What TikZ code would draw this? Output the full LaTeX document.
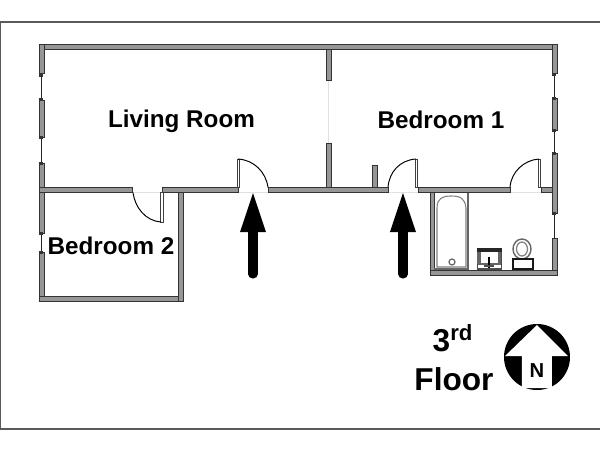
\documentclass[tikz,border=0pt]{standalone}
\usepackage{fontspec}
\setmainfont{Liberation Sans}
\definecolor{WallGrey}{RGB}{150,150,150}
\definecolor{FrameGrey}{RGB}{90,90,90}
\definecolor{SillGrey}{RGB}{225,225,225}
\tikzset{
  wall/.style={fill=WallGrey, draw=black!80, line width=0.45pt},
  leaf/.style={fill=white, draw=black!75, line width=0.5pt},
  pane/.style={draw=black!85, line width=0.55pt},
  sill/.style={draw=SillGrey, line width=0.5pt},
  swing/.style={draw=black, line width=0.55pt},
  fixture/.style={draw=black!60, line width=0.8pt},
  walkin/.style={line width=5.2pt, line cap=round},
  room/.style={font=\bfseries\fontsize{13.8}{16}\selectfont, inner sep=0pt},
  floorlabel/.style={font=\bfseries\fontsize{18}{21}\selectfont, inner sep=0pt},
}
\begin{document}
\begin{tikzpicture}[x=0.02cm, y=-0.02cm]

  \useasboundingbox (0,0) rectangle (600,450);
  \fill[white] (0,0) rectangle (600,450);

  % page frame
  \draw[FrameGrey, line width=0.7pt] (600,22) -- (0.7,22) -- (0.7,429) -- (600,429);

  % windows, thin parts
  \draw[pane] (41.5,72) -- (41.5,255);
  \draw[pane] (554.5,72) -- (554.5,240);

  % thresholds
  \draw[sill] (328.5,80) -- (328.5,143);
  \draw[sill] (132,192) -- (162,192);
  \draw[sill] (238,192) -- (268,192);
  \draw[sill] (388,192) -- (418,192);
  \draw[sill] (510,192) -- (541,192);

  % outer walls
  \filldraw[wall] (39,44) rectangle (557,49);
  \filldraw[wall] (39,44) rectangle (44,73);
  \filldraw[wall] (39,100) rectangle (44,137);
  \filldraw[wall] (39,163) rectangle (44,233);
  \filldraw[wall] (39,252) rectangle (44,301);
  \filldraw[wall] (552,44) rectangle (557,73);
  \filldraw[wall] (552,98) rectangle (557,130);
  \filldraw[wall] (552,153) rectangle (557,213);
  \filldraw[wall] (552,238) rectangle (557,275);

  % window catches
  \foreach \py in {75,99,137,163,233,252} \fill[black!80] (39.5,\py-1.5) rectangle (43.5,\py+1.5);
  \foreach \py in {74,98,130,153,213} \fill[black!80] (552.5,\py-1.5) rectangle (556.5,\py+1.5);

  % inner walls
  \filldraw[wall] (39,187.5) rectangle (132,192.5);
  \filldraw[wall] (162,187.5) rectangle (238,192.5);
  \filldraw[wall] (268,187.5) rectangle (388,192.5);
  \filldraw[wall] (418,187.5) rectangle (510,192.5);
  \filldraw[wall] (541,187.5) rectangle (552,192.5);
  \filldraw[wall] (326,49) rectangle (331,80);
  \filldraw[wall] (326,143) rectangle (331,187.5);
  \filldraw[wall] (372,165) rectangle (377,187.5);

  % bedroom 2 and bath
  \filldraw[wall] (39,296.5) rectangle (183,301);
  \filldraw[wall] (178,192.5) rectangle (183,301);
  \filldraw[wall] (430,192.5) rectangle (434,275);
  \filldraw[wall] (430,270) rectangle (557,275);

  % doors
  \filldraw[leaf] (160.5,192.5) rectangle (163,222);
  \draw[swing] (133,192.5) .. controls (135,208) and (146,221) .. (161,222);
  \filldraw[leaf] (237,159) rectangle (239.5,187.5);
  \draw[swing] (238,159) .. controls (254,160) and (266,172) .. (268,187.5);
  \filldraw[leaf] (415,159) rectangle (417.5,187.5);
  \draw[swing] (416,159) .. controls (400,160) and (389,172) .. (388,187.5);
  \filldraw[leaf] (538,159) rectangle (540.5,187.5);
  \draw[swing] (539,159) .. controls (524,160) and (511,172) .. (510,187.5);

  % bath fixtures
  \draw[fixture] (434,269) -- (468,269) -- (468,192.5);
  \draw[black!50, line width=0.6pt] (437,267) -- (437,208) .. controls (437,198) and (443,196) .. (451,196)
    .. controls (460,196) and (465,198) .. (466,208) -- (466,267) -- cycle;
  \draw[black!60, line width=0.7pt] (452,262) circle[radius=3];
  \draw[black!70, line width=1pt] (477.5,248.5) rectangle (501.5,269);
  \fill[black!85] (477,248) rectangle (502,252);
  \fill[black!60] (477.5,252) rectangle (481,264);
  \fill[black!60] (498,252) rectangle (501.5,264);
  \draw[black!60, line width=0.6pt] (478,264) -- (501,264);
  \fill[black] (488,257) rectangle (490,268);
  \fill[black!70] (484,264.5) rectangle (494,266.5);
  \draw[fixture, fill=white] (522,249) ellipse[x radius=9, y radius=10];
  \draw[black!50, line width=0.7pt] (522,249) ellipse[x radius=5.5, y radius=7];
  \draw[black!90, line width=0.8pt, fill=white] (513,259) rectangle (533,269);

  % entrance arrows
  \coordinate (doorA) at (253,193);
  \coordinate (tailA) at (253,274);
  \coordinate (doorB) at (403,193);
  \coordinate (tailB) at (403,274);
  \draw[walkin] (tailA) -- (253,225);
  \fill[black] (doorA) -- (266,232) -- (240,232) -- cycle;
  \draw[walkin] (tailB) -- (403,225);
  \fill[black] (doorB) -- (416,232) -- (390,232) -- cycle;

  % labels
  \node[room] (livingroom) at (181.5,121) {Living Room};
  \node[room] (bedroomone) at (441,119.5) {Bedroom 1};
  \node[room] (bedroomtwo) at (111,246) {Bedroom 2};
  \node[floorlabel] (floornum) at (453,338) {3$^{\mathbf{rd}}$};
  \node[floorlabel] (floorname) at (454,379.5) {Floor};

  % north sign
  \fill[black] (537,357) circle[radius=33];
  \fill[white] (537,325) -- (568,356) -- (552,356) -- (552,388) -- (522,388) -- (522,356) -- (505,356) -- cycle;
  \node[font=\bfseries\fontsize{11.5}{13}\selectfont, inner sep=0pt] (northmark) at (537,371) {N};

\end{tikzpicture}
\end{document}
